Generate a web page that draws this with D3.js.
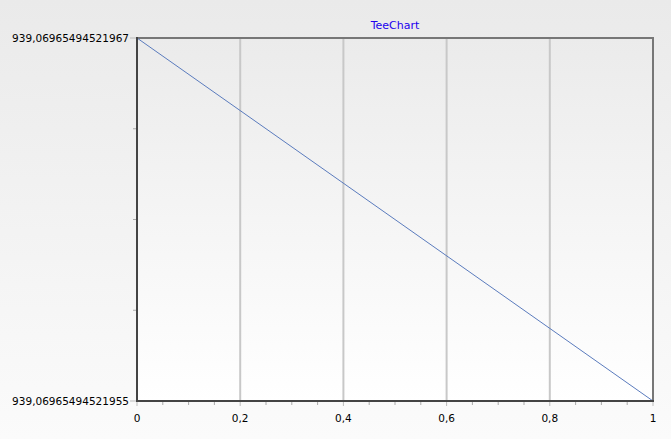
<!DOCTYPE html>
<html><head><meta charset="utf-8">
<script src="https://cdn.jsdelivr.net/npm/d3@7"></script>
<style>html,body{margin:0;padding:0;}svg{display:block;}</style>
</head><body>
<svg id="c" width="671" height="439"></svg>
<script>
const xValues = [0, 1];
const yValues = [939.06965494521967, 939.06965494521955];
const xTicks = [0, 0.2, 0.4, 0.6, 0.8, 1];
const xTickLabels = ["0", "0,2", "0,4", "0,6", "0,8", "1"];
const yTickLabels = ["939,06965494521955", "939,06965494521967"];
const title = "TeeChart";

const W = 671, H = 439;
const m = {l: 137, r: 653, t: 38, b: 401};
const svg = d3.select("#c");
const defs = svg.append("defs");
const g1 = defs.append("linearGradient").attr("id","bg").attr("x1",0).attr("y1",0).attr("x2",0).attr("y2",1);
g1.append("stop").attr("offset","0%").attr("stop-color","#eaeaea");
g1.append("stop").attr("offset","100%").attr("stop-color","#fbfbfb");
const g2 = defs.append("linearGradient").attr("id","pbg").attr("x1",0).attr("y1",0).attr("x2",0).attr("y2",1);
g2.append("stop").attr("offset","0%").attr("stop-color","#ebebeb");
g2.append("stop").attr("offset","100%").attr("stop-color","#ffffff");

svg.append("rect").attr("width",W).attr("height",H).attr("fill","url(#bg)");

const x = d3.scaleLinear().domain([0,1]).range([m.l, m.r]);
const yMin = d3.min(yValues), yMax = d3.max(yValues);
const y = d3.scaleLinear().domain([yMin, yMax]).range([m.b, m.t]);

svg.append("rect").attr("x",m.l).attr("y",m.t).attr("width",m.r-m.l).attr("height",m.b-m.t).attr("fill","url(#pbg)");

// grid
svg.append("g").selectAll("line").data(xTicks.slice(1,-1)).join("line")
  .attr("x1",d=>x(d)).attr("x2",d=>x(d)).attr("y1",m.t).attr("y2",m.b)
  .attr("stroke","#c8c8c8").attr("stroke-width",2);

// border top/right
svg.append("path").attr("d",`M${m.l},${m.t}H${m.r}V${m.b}`).attr("fill","none").attr("stroke","#777").attr("stroke-width",2);

// series line
const line = d3.line().x((d,i)=>x(xValues[i])).y(d=>y(d));
svg.append("path").datum(yValues).attr("d",line).attr("fill","none").attr("stroke","#5a7bbd").attr("stroke-width",1);

// x axis
const xMinor = d3.range(0, 1.0001, 0.05).filter(v=>xTicks.every(t=>Math.abs(t-v)>1e-6));
svg.append("g").selectAll("line").data(xMinor).join("line")
  .attr("x1",d=>x(d)).attr("x2",d=>x(d)).attr("y1",m.b).attr("y2",m.b+4)
  .attr("stroke","#aaa").attr("stroke-width",1);
svg.append("g").selectAll("line").data(xTicks).join("line")
  .attr("x1",d=>x(d)).attr("x2",d=>x(d)).attr("y1",m.b).attr("y2",m.b+5)
  .attr("stroke","#bbb").attr("stroke-width",1);
svg.append("line").attr("x1",m.l-1).attr("x2",m.r+1).attr("y1",m.b).attr("y2",m.b).attr("stroke","#444").attr("stroke-width",2);
svg.append("g").selectAll("text").data(xTicks).join("text")
  .attr("x",d=>x(d)).attr("y",m.b+21).attr("text-anchor","middle")
  .attr("font-family","DejaVu Sans, Verdana, sans-serif").attr("font-size",10.5).attr("fill","#000")
  .text((d,i)=>xTickLabels[i]);

// y axis
const yMinorFrac = [0.25, 0.5, 0.75];
const yMajor = [yMin, yMax];
svg.append("g").selectAll("line").data(yMinorFrac).join("line")
  .attr("x1",m.l).attr("x2",m.l-4).attr("y1",d=>m.b+(m.t-m.b)*d).attr("y2",d=>m.b+(m.t-m.b)*d)
  .attr("stroke","#aaa").attr("stroke-width",1);
svg.append("g").selectAll("line").data(yMajor).join("line")
  .attr("x1",m.l).attr("x2",m.l-7).attr("y1",d=>y(d)).attr("y2",d=>y(d))
  .attr("stroke","#bbb").attr("stroke-width",1);
svg.append("line").attr("x1",m.l).attr("x2",m.l).attr("y1",m.t-1).attr("y2",m.b+1).attr("stroke","#444").attr("stroke-width",2);
svg.append("g").selectAll("text").data(yMajor).join("text")
  .attr("x",m.l-8).attr("y",d=>y(d)).attr("dy","0.35em").attr("text-anchor","end")
  .attr("font-family","DejaVu Sans, Verdana, sans-serif").attr("font-size",10.5).attr("fill","#000")
  .text((d,i)=>yTickLabels[i]);

// title
svg.append("text").attr("x",(m.l+m.r)/2).attr("y",29).attr("text-anchor","middle")
  .attr("font-family","DejaVu Sans, Verdana, sans-serif").attr("font-size",11).attr("fill","#2200ee")
  .text(title);
</script>
</body></html>
